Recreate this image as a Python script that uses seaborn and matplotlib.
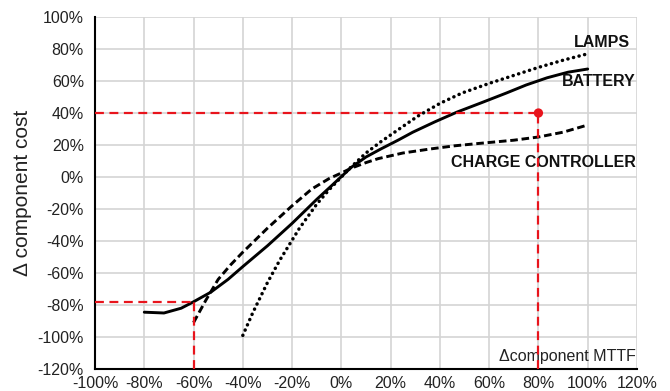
import matplotlib
matplotlib.use("Agg")
import matplotlib.pyplot as plt
import pandas as pd
import seaborn as sns

# values, in percent
battery_x = [-80, -72, -65, -60, -53, -46, -40, -30, -20, -10, -4, 4, 10, 16, 23, 29, 38, 47, 57, 67, 75, 83.5, 92, 100]
battery_y = [-84.5, -85, -82, -78, -72, -64, -56, -43, -29, -14, -5.5, 6, 12.5, 17.5, 23, 28, 34.5, 40.6, 46.5, 52.5, 57.5, 62, 65.5, 67.5]

lamps_x = [-40, -36, -30, -25, -17, -10, -5, 3.5, 10, 16, 23, 31, 40, 49, 60, 70, 80, 90, 100]
lamps_y = [-99, -85, -66, -52, -32, -17, -8, 5.6, 15, 22, 29.5, 38, 46, 52.5, 58.5, 63.5, 68.5, 73, 77]

charge_x = [-60, -55, -50, -45, -40, -30, -20, -12, -5, 0, 4, 10, 15, 25, 36, 46, 56, 70, 80, 90, 100]
charge_y = [-91, -77, -64, -55, -47, -32, -18, -7.5, -1, 2.5, 5.5, 9, 11.5, 15, 17.5, 19.5, 21, 23, 25, 28, 32.5]

# red guide points (x, y)
guide_x = [80, -60]
guide_y = [40, -78]

x_ticks = list(range(-100, 121, 20))
y_ticks = list(range(-120, 101, 20))

sns.set_theme(style="whitegrid")
plt.rcParams["font.family"] = ["Liberation Sans", "DejaVu Sans"]

fig = plt.figure(figsize=(6.7, 3.91), dpi=100)
ax = fig.add_axes([0.1418, 0.0563, 0.8089, 0.9002])

# (x, y, linestyle, width, capstyle)
curves = [
    (battery_x, battery_y, "-", 2.1, "butt"),
    (lamps_x, lamps_y, (0, (0.05, 1.6)), 2.5, "round"),
    (charge_x, charge_y, (0, (2.6, 1.3)), 2.1, "butt"),
]
for xs, ys, ls, w, cap in curves:
    df = pd.DataFrame({"x": xs, "y": ys})
    sns.lineplot(data=df, x="x", y="y", ax=ax, color="black", lw=w,
                 linestyle=ls, sort=False, estimator=None, zorder=3,
                 dash_capstyle=cap)

# red dashed guides down to the axes
red = "#e8141c"
for gx, gy in zip(guide_x, guide_y):
    ax.hlines(gy, x_ticks[0], gx, color=red, lw=1.6, linestyles=(0, (4, 2.5)), zorder=4)
    ax.vlines(gx, y_ticks[0], gy, color=red, lw=1.6, linestyles=(0, (4, 2.5)), zorder=4)
sns.scatterplot(x=guide_x[:1], y=guide_y[:1], ax=ax, color=red, s=45,
                edgecolor="none", zorder=5)

ax.set_xlim(x_ticks[0], x_ticks[-1])
ax.set_ylim(y_ticks[0], y_ticks[-1])
ax.set_xticks(x_ticks)
ax.set_yticks(y_ticks)
ax.set_xticklabels([f"{t}%" for t in x_ticks])
ax.set_yticklabels([f"{t}%" for t in y_ticks])
ax.tick_params(length=0, labelsize=11.5, colors="#222222")
ax.tick_params(axis="x", pad=5)
ax.tick_params(axis="y", pad=8)
ax.grid(True, color="#d4d4d4", lw=1.2)
ax.set_xlabel("")
ax.set_ylabel("Δ component cost", fontsize=15, color="#222222", labelpad=4)

for side in ["top", "right"]:
    ax.spines[side].set_visible(False)
for side in ["left", "bottom"]:
    ax.spines[side].set_color("black")
    ax.spines[side].set_linewidth(1.5)

lab = dict(fontsize=11.5, fontweight="bold", color="#111111", ha="right", va="center")
ax.text(117, 84, "LAMPS", **lab)
ax.text(119.5, 60, "BATTERY", **lab)
ax.text(119.5, 9, "CHARGE CONTROLLER", **lab)
ax.text(119.5, -112.5, "Δcomponent MTTF", fontsize=11.5, color="#222222", ha="right", va="center")

fig.savefig("out.png", dpi=100)
